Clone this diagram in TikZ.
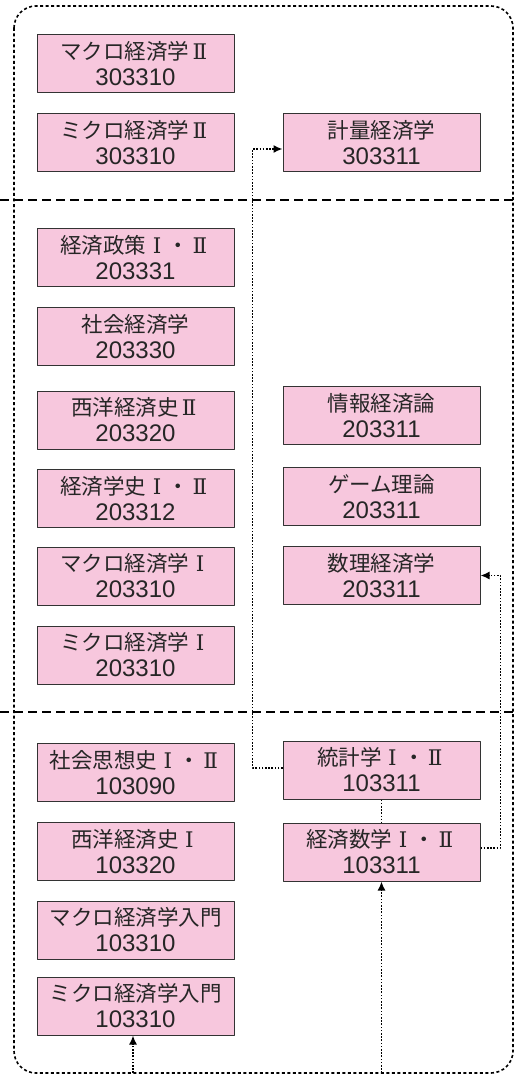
\documentclass[tikz,border=0pt]{standalone}
\usepackage{fontspec}
\setmainfont{Noto Sans CJK JP}
\newfontfamily\numfont{Liberation Sans}
\newfontfamily\romfont{DejaVu Serif}
\usepackage{tikz}
\usetikzlibrary{arrows.meta}
\usetikzlibrary{positioning}
\definecolor{coursepink}{RGB}{247,199,221}
\newcommand{\rI}{\makebox[1em]{\romfont Ⅰ}}
\newcommand{\rII}{\makebox[1em]{\romfont Ⅱ}}
\newcommand{\cnum}[1]{{\numfont\fontsize{24}{26}\selectfont #1}}

\begin{document}
\begin{tikzpicture}[line cap=round,line join=round, x=1pt, y=-1pt,
  course/.style={draw=black!80, fill=coursepink, line width=1pt, minimum width=197pt, minimum height=58pt, inner sep=0pt, align=center, text=black!85, font=\fontsize{21.5}{26}\selectfont},
  link/.style={line width=1.6pt, dash pattern=on 1.6pt off 1.6pt, line cap=butt},
  tip/.style={-{Latex[length=9pt, width=8pt]}},
  yearline/.style={line width=1.5pt, dash pattern=on 9pt off 5pt, line cap=butt},
  frame/.style={line width=1.6pt, dash pattern=on 3pt off 2.5pt, line cap=butt, rounded corners=22pt}]
\useasboundingbox (0,0) rectangle (516,1078);
\draw [frame] (14,6) rectangle (513,1073);
\draw [yearline] (0,200) -- (516,200);
\draw [yearline] (0,712) -- (516,712);
% third year
\node [course] (makuro2) at (135.5,64) {マクロ経済学\rII\\\cnum{303310}};
\node [course] (mikuro2) at (135.5,143) {ミクロ経済学\rII\\\cnum{303310}};
\node [course] (keiryo) at (381.5,143) {計量経済学\\\cnum{303311}};
% second year
\node [course] (seisaku) at (135.5,257.5) {経済政策\rI・\rII\\\cnum{203331}};
\node [course] (shakai) at (135.5,336.5) {社会経済学\\\cnum{203330}};
\node [course] (seiyo2) at (135.5,420) {西洋経済史\rII\\\cnum{203320}};
\node [course] (gakushi) at (135.5,498.5) {経済学史\rI・\rII\\\cnum{203312}};
\node [course] (makuro1) at (135.5,576) {マクロ経済学\rI\\\cnum{203310}};
\node [course] (mikuro1) at (135.5,655) {ミクロ経済学\rI\\\cnum{203310}};
\node [course] (joho) at (381.5,415.5) {情報経済論\\\cnum{203311}};
\node [course] (game) at (381.5,496.5) {ゲーム理論\\\cnum{203311}};
\node [course] (suri) at (381.5,575.5) {数理経済学\\\cnum{203311}};
% first year
\node [course] (shiso) at (135.5,772.5) {社会思想史\rI・\rII\\\cnum{103090}};
\node [course] (seiyo1) at (135.5,851.5) {西洋経済史\rI\\\cnum{103320}};
\node [course] (makuro0) at (135.5,930) {マクロ経済学入門\\\cnum{103310}};
\node [course] (mikuro0) at (135.5,1006) {ミクロ経済学入門\\\cnum{103310}};
\node [course] (toukei) at (381.5,770) {統計学\rI・\rII\\\cnum{103311}};
\node [course] (keisu) at (381.5,852) {経済数学\rI・\rII\\\cnum{103311}};
% prerequisites
\coordinate (entryA) at (133,1073);
\coordinate (entryB) at (381.5,1073);
\draw [link, tip] (entryA) -- (entryA |- mikuro0.south);
\draw [link, tip] (entryB) -- (keisu.south);
\draw [link] (toukei.south) -- (keisu.north);
\draw [link, tip] ([yshift=4pt]keisu.east) -- ++(20,0) |- (suri.east);
\draw [link, tip] ([yshift=2pt]toukei.west) -- ++(-30,0) |- ([yshift=-6pt]keiryo.west);
\end{tikzpicture}
\end{document}
